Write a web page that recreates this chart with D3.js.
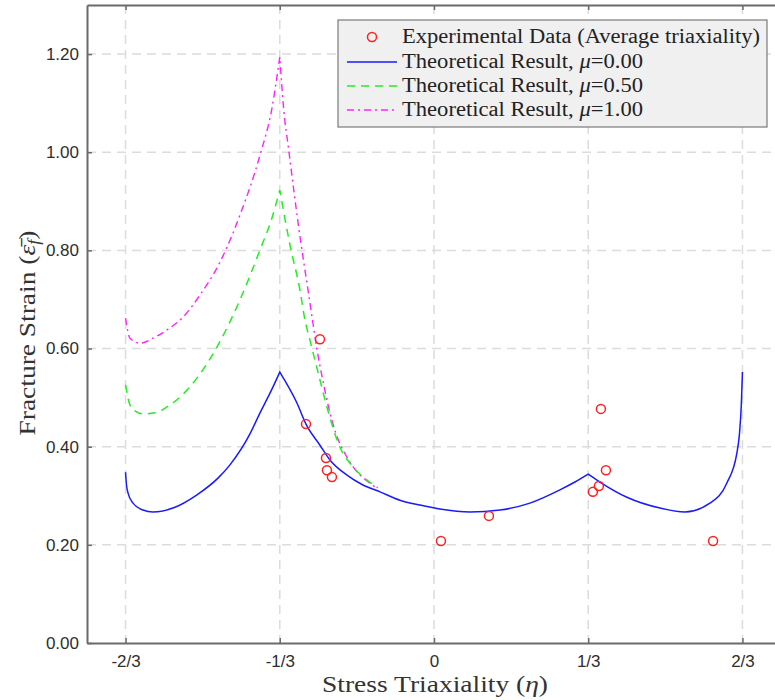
<!DOCTYPE html>
<html><head><meta charset="utf-8">
<script src="https://cdn.jsdelivr.net/npm/d3@7"></script>
<style>body{margin:0;background:#fff}svg{display:block}</style>
</head><body>
<svg id="c" width="775" height="700"></svg>
<script>
// ---- data ----
const xTickValues = [-2/3, -1/3, 0, 1/3, 2/3];
const xTickLabels = ["-2/3", "-1/3", "0", "1/3", "2/3"];
const yTickValues = [0, 0.2, 0.4, 0.6, 0.8, 1.0, 1.2];

const expEta    = [-0.2767, -0.2465, -0.2335, -0.2314, -0.2206, 0.0150, 0.1187, 0.3607, 0.3716, 0.3564, 0.3434, 0.6032];
const expStrain = [0.446, 0.619, 0.377, 0.352, 0.338, 0.208, 0.259, 0.477, 0.352, 0.320, 0.308, 0.208];

const mu0Eta = [-0.6667,-0.6650,-0.6614,-0.6506,-0.6290,-0.6074,-0.5642,-0.5123,-0.4669,-0.4410,-0.3978,-0.3761,-0.3545,-0.3333,-0.2962,-0.2767,-0.2465,-0.2249,-0.1881,-0.1536,-0.1168,-0.0736,-0.0304,0.0128,0.0777,0.1425,0.2073,0.2721,0.3046,0.3333,0.3586,0.4169,0.4883,0.5423,0.5963,0.6330,0.6546,0.6600,0.6642,0.6667];
const mu0Val = [0.348,0.325,0.306,0.285,0.271,0.267,0.275,0.302,0.336,0.363,0.426,0.469,0.509,0.552,0.489,0.446,0.403,0.373,0.342,0.322,0.308,0.291,0.281,0.273,0.267,0.271,0.285,0.312,0.328,0.344,0.328,0.297,0.275,0.267,0.285,0.326,0.387,0.424,0.485,0.552];
const mu0Cusps = [-0.3333, 0.3333];

const mu05Eta = [-0.6667,-0.6571,-0.6463,-0.6290,-0.6030,-0.5771,-0.5274,-0.4669,-0.4194,-0.3761,-0.3502,-0.3333,-0.3113,-0.2897,-0.2789,-0.2681,-0.2465,-0.2314,-0.2033,-0.1752,-0.1449,-0.1212];
const mu05Val = [0.526,0.485,0.473,0.467,0.469,0.481,0.522,0.607,0.699,0.801,0.866,0.923,0.811,0.719,0.658,0.617,0.536,0.481,0.399,0.359,0.332,0.316];

const mu1Eta = [-0.6667,-0.6571,-0.6355,-0.6074,-0.5771,-0.5425,-0.5058,-0.4626,-0.4194,-0.3761,-0.3502,-0.3333,-0.3247,-0.3139,-0.3031,-0.2923,-0.2815,-0.2707,-0.2642,-0.2534,-0.2383,-0.2275,-0.2124,-0.1908,-0.1692,-0.1476,-0.1238];
const mu1Val = [0.662,0.621,0.611,0.621,0.638,0.664,0.709,0.776,0.872,0.994,1.090,1.194,1.086,1.004,0.923,0.846,0.776,0.709,0.668,0.601,0.526,0.479,0.428,0.383,0.352,0.332,0.316];
const peakCusps = [-0.3333];

const legendLabels = ["Experimental Data (Average triaxiality)", "Theoretical Result, ", "Theoretical Result, ", "Theoretical Result, "];
const legendMu = [null, "0.00", "0.50", "1.00"];

// ---- layout ----
const svg = d3.select("#c");
const L = 87, T = 5, R = 781, B = 643;
const x = d3.scaleLinear().domain([-0.75, 0.75]).range([L, R]);
const y = d3.scaleLinear().domain([0, 1.3]).range([B, T]);

const gridColor = "#dcdcdc";
svg.append("g").selectAll("line").data(yTickValues.filter(d => d > 0)).join("line")
  .attr("x1", L).attr("x2", R).attr("y1", d => y(d)).attr("y2", d => y(d))
  .attr("stroke", gridColor).attr("stroke-width", 1.5).attr("stroke-dasharray", "9,6");
svg.append("g").selectAll("line").data(xTickValues).join("line")
  .attr("y1", T).attr("y2", B).attr("x1", d => x(d)).attr("x2", d => x(d))
  .attr("stroke", gridColor).attr("stroke-width", 1.5).attr("stroke-dasharray", "9,6");

// axes
const spine = "#6b6b6b";
const xAxis = d3.axisBottom(x).tickValues(xTickValues).tickFormat((d, i) => xTickLabels[i]).tickSizeInner(-5).tickSizeOuter(0).tickPadding(12);
const gx = svg.append("g").attr("transform", `translate(0,${B})`).call(xAxis);
const xAxisTop = d3.axisTop(x).tickValues(xTickValues).tickFormat("").tickSizeInner(-5).tickSizeOuter(0);
const gxt = svg.append("g").attr("transform", `translate(0,${T})`).call(xAxisTop);
const yAxis = d3.axisLeft(y).tickValues(yTickValues).tickFormat(d3.format(".2f")).tickSizeInner(-5).tickSizeOuter(0).tickPadding(8);
const gy = svg.append("g").attr("transform", `translate(${L},0)`).call(yAxis);
[gx, gxt, gy].forEach(g => {
  g.select(".domain").attr("stroke", spine).attr("stroke-width", 2);
  g.selectAll(".tick line").attr("stroke", spine).attr("stroke-width", 1.5);
  g.selectAll(".tick text").attr("font-family", "'Liberation Sans', Arial, sans-serif").attr("font-size", 17).attr("fill", "#2e2e2e");
});

// curves: smooth between cusps, sharp at cusps
const zip = (a, b) => a.map((v, i) => [v, b[i]]);
const seg = d3.line().x(d => x(d[0])).y(d => y(d[1])).curve(d3.curveMonotoneX);
function cuspPath(pts, cusps) {
  const parts = [];
  let cur = [];
  pts.forEach(p => {
    cur.push(p);
    if (cusps.some(c => Math.abs(c - p[0]) < 1e-4)) { parts.push(cur); cur = [p]; }
  });
  if (cur.length > 1) parts.push(cur);
  return parts.map(s => seg(s)).map((d, i) => i === 0 ? d : "L" + d.slice(1)).join("");
}
svg.append("path").attr("d", cuspPath(zip(mu1Eta, mu1Val), peakCusps)).attr("fill", "none")
  .attr("stroke", "#ff22ff").attr("stroke-width", 1.4).attr("stroke-dasharray", "7,4,2,4");
svg.append("path").attr("d", cuspPath(zip(mu05Eta, mu05Val), peakCusps)).attr("fill", "none")
  .attr("stroke", "#22ee22").attr("stroke-width", 1.5).attr("stroke-dasharray", "8,6");
svg.append("path").attr("d", cuspPath(zip(mu0Eta, mu0Val), mu0Cusps)).attr("fill", "none")
  .attr("stroke", "#1a1aff").attr("stroke-width", 1.5);

// experimental points
svg.append("g").selectAll("circle").data(zip(expEta, expStrain)).join("circle")
  .attr("cx", d => x(d[0])).attr("cy", d => y(d[1])).attr("r", 4.5)
  .attr("fill", "none").attr("stroke", "#ff2020").attr("stroke-width", 1.5);

// axis labels
const serif = "'Liberation Serif', 'Times New Roman', serif";
const xl = svg.append("text").attr("x", 435).attr("y", 692).attr("text-anchor", "middle")
  .attr("font-family", serif).attr("font-size", 24).attr("fill", "#333")
  .attr("textLength", 226).attr("lengthAdjust", "spacingAndGlyphs");
xl.append("tspan").text("Stress Triaxiality (");
xl.append("tspan").attr("font-style", "italic").text("η");
xl.append("tspan").text(")");

const yl = svg.append("text").attr("transform", "translate(35,333) rotate(-90)").attr("text-anchor", "middle")
  .attr("font-family", serif).attr("font-size", 24).attr("fill", "#333")
  .attr("textLength", 205).attr("lengthAdjust", "spacingAndGlyphs");
yl.append("tspan").text("Fracture Strain (");
yl.append("tspan").attr("font-style", "italic").text("ε\u0304");
yl.append("tspan").attr("font-style", "italic").attr("font-size", 16).attr("dy", 4).text("f");
yl.append("tspan").attr("dy", -4).text(")");

// legend
const lg = svg.append("g");
lg.append("rect").attr("x", 338).attr("y", 20).attr("width", 429).attr("height", 107)
  .attr("fill", "#f0f0f0").attr("stroke", "#7a7a7a").attr("stroke-width", 1.2);
const rowY = [37, 62, 86, 110];
const rowW = [358, 241, 241, 241];
const styles = [null, {c: "#1a1aff", d: null}, {c: "#22ee22", d: "8,6"}, {c: "#ff22ff", d: "7,4,2,4"}];
rowY.forEach((ry, i) => {
  if (i === 0) {
    lg.append("circle").attr("cx", 372).attr("cy", ry).attr("r", 4.5).attr("fill", "none").attr("stroke", "#ff2020").attr("stroke-width", 1.5);
  } else {
    lg.append("line").attr("x1", 347).attr("x2", 397).attr("y1", ry).attr("y2", ry)
      .attr("stroke", styles[i].c).attr("stroke-width", 1.5).attr("stroke-dasharray", styles[i].d);
  }
  const t = lg.append("text").attr("x", 402).attr("y", ry + 6).attr("font-family", serif).attr("font-size", 20).attr("fill", "#222")
    .attr("textLength", rowW[i]).attr("lengthAdjust", "spacingAndGlyphs");
  t.append("tspan").text(legendLabels[i]);
  if (legendMu[i]) {
    t.append("tspan").attr("font-style", "italic").text("μ");
    t.append("tspan").text("=" + legendMu[i]);
  }
});
</script>
</body></html>
